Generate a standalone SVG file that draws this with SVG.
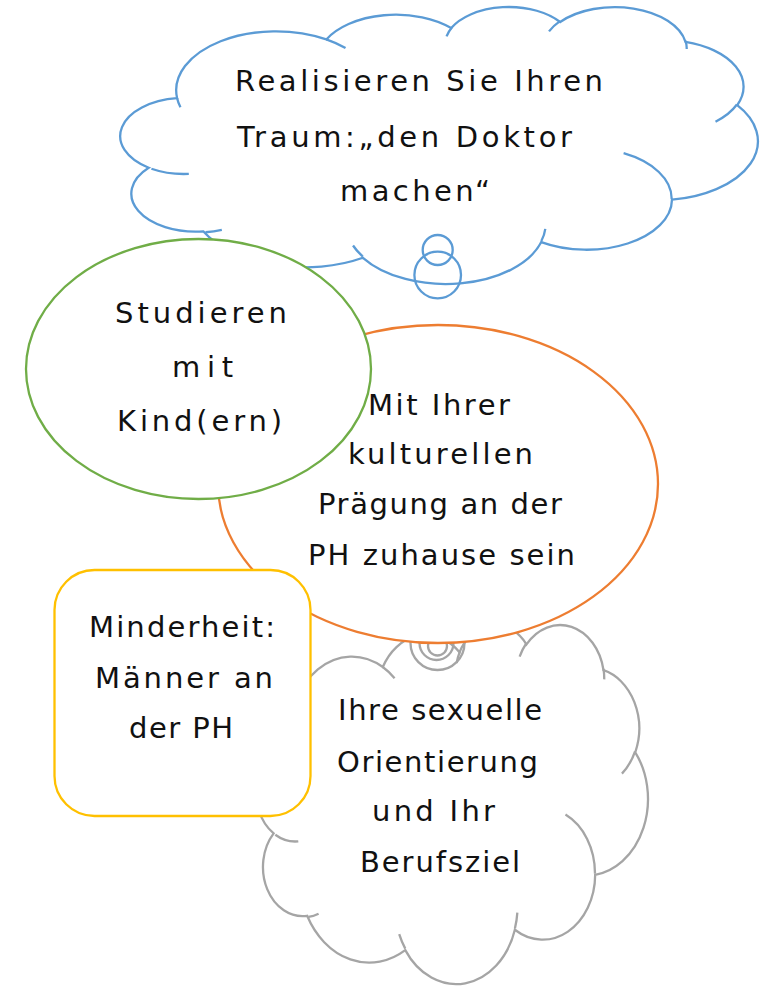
<svg xmlns="http://www.w3.org/2000/svg" xmlns:xlink="http://www.w3.org/1999/xlink" width="767" height="986" viewBox="0 0 767 986">
<defs>
<path id="cloud" vector-effect="non-scaling-stroke" d="M3900 14370 A6753 9190 0 0 1 14004 5203 A5333 7267 0 0 1 22455 3432 A4365 5945 0 0 1 29833 2483 A4857 6595 0 0 1 38318 5578 A5333 7273 0 0 1 41819 15462 A6775 9220 0 0 1 37403 30205 A5785 7867 0 0 1 28554 36815 A6752 9215 0 0 1 16479 39265 A7720 10543 0 0 1 5669 35139 A4360 5918 0 0 1 1977 25218 A4345 5945 0 0 1 3900 14370 Z"/>
<path id="cloudInner" vector-effect="non-scaling-stroke" fill="none" d="M4693 26177 A4345 5945 0 0 1 2160 25380 M6928 34899 A4360 5918 0 0 1 5820 35280 M16478 39090 A6752 9215 0 0 1 15810 37351 M28827 34751 A6752 9215 0 0 1 28560 36661 M34129 22954 A5785 7867 0 0 1 37381 30090 M41798 15354 A5333 7273 0 0 1 40350 18030 M38324 5426 A4857 6595 0 0 1 38400 6689 M29078 3952 A4857 6595 0 0 1 29820 2340 M22141 4720 A4365 5945 0 0 1 22500 3329 M14000 5192 A6753 9190 0 0 1 15302 6542 M4127 15789 A6753 9190 0 0 1 3901 14371"/>
</defs>
<style>
.fillw{fill:#ffffff}
.sw{stroke-width:2.3}
.blue{stroke:#5B9BD5}
.grey{stroke:#A5A5A5}
.orange{stroke:#ED7D31}
.green{stroke:#70AD47}
.gold{stroke:#FFC000}
.nofill{fill:none}
.t{font-family:"DejaVu Sans","Liberation Sans",sans-serif;font-size:29px;fill:#111111}
</style>
<rect width="767" height="986" fill="#ffffff"/>

<g id="node-traum">
  <g transform="translate(119.5,6.1) scale(0.014771,0.0064097)">
    <use xlink:href="#cloud" class="fillw blue sw"/>
    <use xlink:href="#cloudInner" class="nofill blue sw"/>
  </g>
  <circle cx="437.7" cy="250" r="15" class="nofill blue sw"/>
  <circle cx="437.7" cy="275" r="23.3" class="nofill blue sw"/>
  <text class="t" x="235" y="91" textLength="368" lengthAdjust="spacing">Realisieren Sie Ihren</text>
  <text class="t" x="237" y="147" textLength="335" lengthAdjust="spacing">Traum:„den Doktor</text>
  <text class="t" x="340" y="201" textLength="150" lengthAdjust="spacing">machen“</text>
</g>

<g id="node-orientierung">
  <g transform="translate(255.7,623.8) scale(0.0090764,0.0083102)">
    <use xlink:href="#cloud" class="fillw grey sw"/>
    <use xlink:href="#cloudInner" class="nofill grey sw"/>
  </g>
  <circle cx="437.5" cy="643" r="27" class="nofill grey sw"/>
  <circle cx="436.5" cy="643" r="17" class="nofill grey sw"/>
  <circle cx="437.5" cy="646" r="9.5" class="nofill grey sw"/>
  <text class="t" x="338" y="720" textLength="204" lengthAdjust="spacing">Ihre sexuelle</text>
  <text class="t" x="337" y="772" textLength="201" lengthAdjust="spacing">Orientierung</text>
  <text class="t" x="372" y="821" textLength="123" lengthAdjust="spacing">und Ihr</text>
  <text class="t" x="360" y="872" textLength="160" lengthAdjust="spacing">Berufsziel</text>
</g>

<g id="node-kultur">
  <ellipse cx="438" cy="484" rx="220" ry="159" class="fillw orange sw"/>
  <text class="t" x="368" y="415" textLength="142" lengthAdjust="spacing">Mit Ihrer</text>
  <text class="t" x="348" y="464" textLength="185" lengthAdjust="spacing">kulturellen</text>
  <text class="t" x="318" y="514" textLength="244" lengthAdjust="spacing">Prägung an der</text>
  <text class="t" x="308" y="565" textLength="267" lengthAdjust="spacing">PH zuhause sein</text>
</g>

<g id="node-kind">
  <ellipse cx="198.5" cy="369" rx="172.5" ry="130" class="fillw green sw"/>
  <text class="t" x="115" y="323" textLength="172" lengthAdjust="spacing">Studieren</text>
  <text class="t" x="172" y="377" textLength="61" lengthAdjust="spacing">mit</text>
  <text class="t" x="117" y="431" textLength="165" lengthAdjust="spacing">Kind(ern)</text>
</g>

<g id="node-minderheit">
  <rect x="54.5" y="570" width="256" height="246" rx="40" ry="40" class="fillw gold sw"/>
  <text class="t" x="89" y="637" textLength="186" lengthAdjust="spacing">Minderheit:</text>
  <text class="t" x="95" y="688" textLength="178" lengthAdjust="spacing">Männer an</text>
  <text class="t" x="129" y="738" textLength="104" lengthAdjust="spacing">der PH</text>
</g>

<g id="connectors"></g>
</svg>
